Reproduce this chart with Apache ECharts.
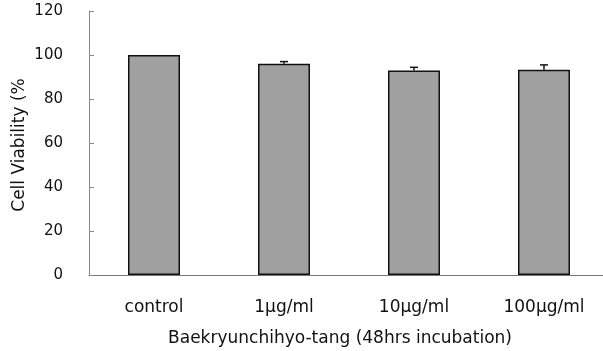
<!DOCTYPE html>
<html><head><meta charset="utf-8">
<script src="https://cdn.jsdelivr.net/npm/echarts@6/dist/echarts.min.js"></script>
<style>html,body{margin:0;padding:0;background:#fff}#c{width:603px;height:351px}</style>
</head><body><div id="c"></div>
<script>
var categories = ['control', '1\u03bcg/ml', '10\u03bcg/ml', '100\u03bcg/ml'];
var viability = [100, 96, 93, 93.3];
var errors = [0, 1, 1.4, 2.2];
var yTicks = [0, 20, 40, 60, 80, 100, 120];
var xTitle = 'Baekryunchihyo-tang (48hrs incubation)';
var yTitle = 'Cell Viability (%';

var chart = echarts.init(document.getElementById('c'));
var font = '"DejaVu Sans", sans-serif';
var catIdx = categories.map(function (c, i) { return i; });
chart.setOption({
  animation: false,
  grid: { left: 89, right: 0, top: 11, bottom: 76 },
  xAxis: {
    type: 'value', min: -0.5, max: 3.454,
    axisLine: { onZero: false, lineStyle: { color: '#777', width: 1 } },
    axisTick: { show: false },
    splitLine: { show: false },
    axisLabel: { color: '#111', fontFamily: font, fontSize: 17, margin: 24,
      customValues: catIdx,
      formatter: function (v) { return categories[Math.round(v)] || ''; } }
  },
  yAxis: {
    type: 'value', min: 0, max: 120, interval: 20,
    axisLine: { show: true, onZero: false, lineStyle: { color: '#888', width: 1 } },
    axisTick: { show: true, inside: true, length: 5, lineStyle: { color: '#888' } },
    splitLine: { show: false },
    axisLabel: { color: '#111', fontFamily: font, fontSize: 15, margin: 26,
      formatter: function (v) { return yTicks.indexOf(v) >= 0 ? String(v) : ''; } }
  },
  graphic: [{
    type: 'text', x: 20, y: 145, rotation: Math.PI / 2,
    style: { text: yTitle, fill: '#111', font: '17px "DejaVu Sans", sans-serif', align: 'center', verticalAlign: 'middle' }
  }, {
    type: 'text', x: 340, y: 339,
    style: { text: xTitle, fill: '#111', font: '17px "DejaVu Sans", sans-serif', align: 'center', verticalAlign: 'middle' }
  }],
  series: [{
    type: 'bar', data: viability.map(function (v, i) { return [i, v]; }), barWidth: 52,
    itemStyle: { color: '#a0a0a0', borderColor: '#111', borderWidth: 1.5 }
  }, {
    type: 'custom',
    data: viability.map(function (v, i) { return [i, v, v + errors[i]]; }),
    renderItem: function (params, api) {
      var i = api.value(0);
      if (api.value(2) - api.value(1) <= 0) return null;
      var a = api.coord([i, api.value(1)]);
      var b = api.coord([i, api.value(2)]);
      return { type: 'group', children: [
        { type: 'line', shape: { x1: a[0], y1: a[1], x2: b[0], y2: b[1] }, style: { stroke: '#111', lineWidth: 1.5 } },
        { type: 'line', shape: { x1: b[0] - 4, y1: b[1], x2: b[0] + 4, y2: b[1] }, style: { stroke: '#111', lineWidth: 1.5 } }
      ]};
    },
    z: 1
  }]
});
</script></body></html>
